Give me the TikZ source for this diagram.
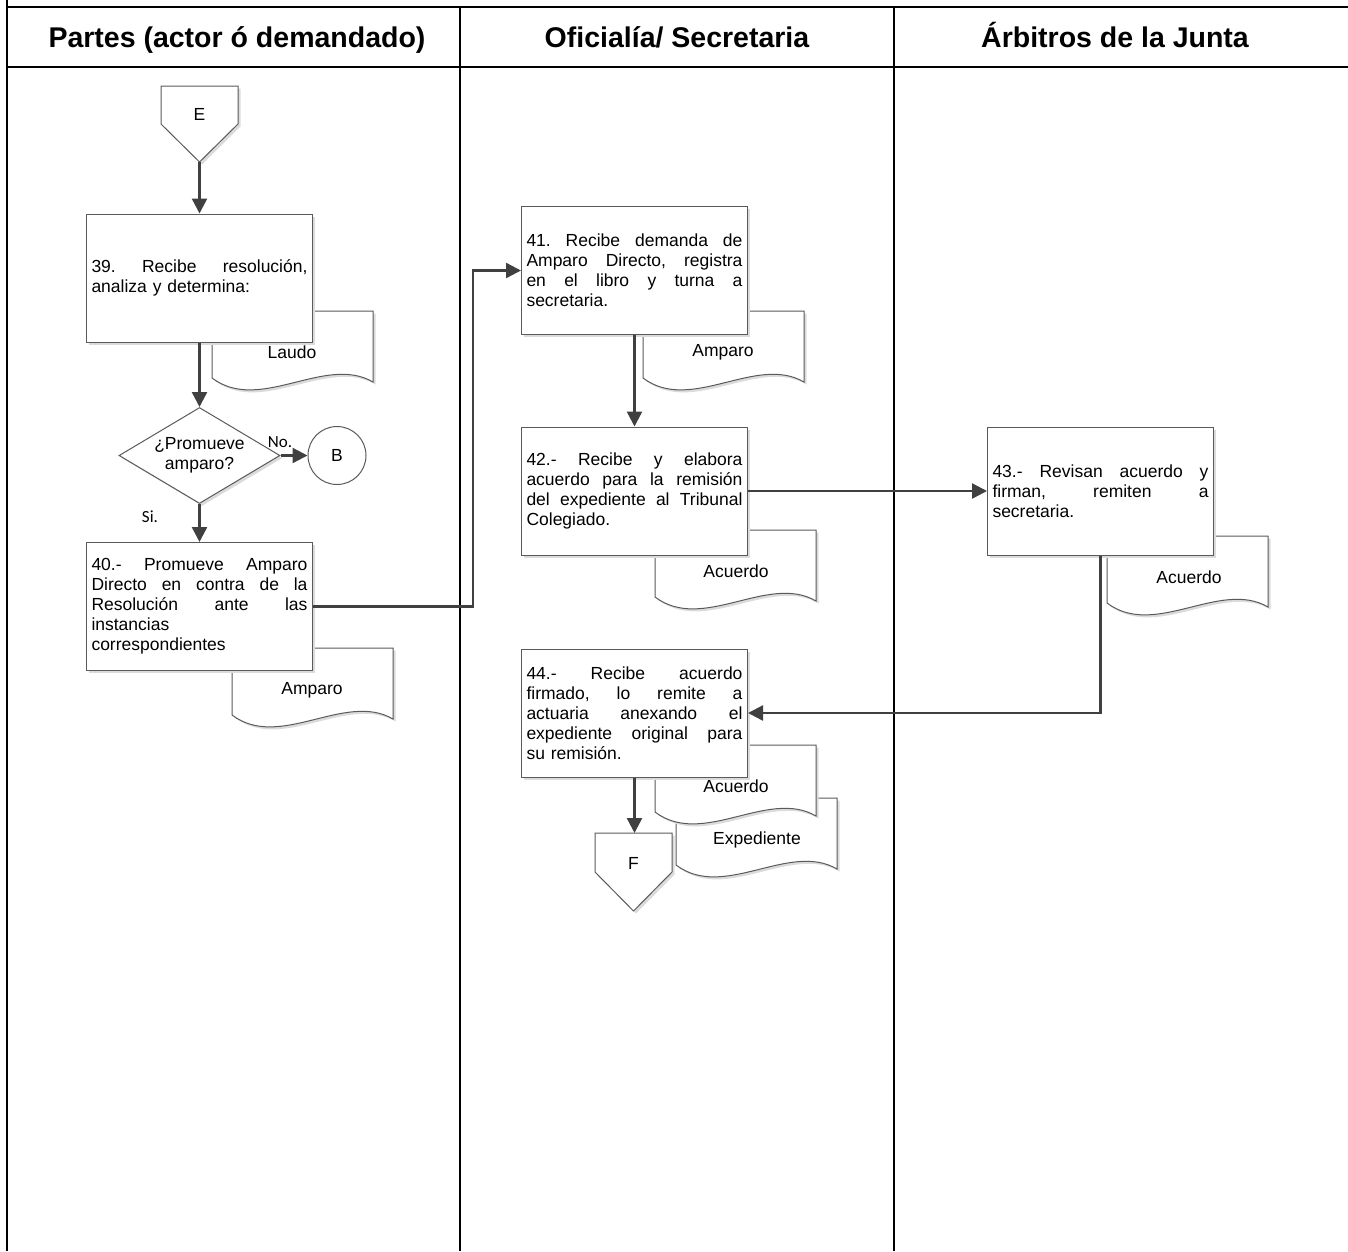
\documentclass[tikz,border=0pt]{standalone}
\usepackage{fontspec}
\setmainfont{Liberation Sans}
\newfontfamily\lblfont{Carlito}
\usetikzlibrary{arrows.meta,shapes.geometric,shadows}
\definecolor{conncol}{HTML}{404040}
\definecolor{edgecol}{HTML}{5A5A5A}
\newcommand{\jl}[1]{\makebox[216pt][s]{\spaceskip=0pt \xspaceskip=0pt \frenchspacing #1}}
\tikzset{
  lane/.style={line width=1.8pt, black},
  hline/.style={line width=2.6pt, black},
  head/.style={font=\fontsize{28.5}{32}\selectfont\bfseries, inner sep=0pt, anchor=base},
  body/.style={font=\fontsize{17.5}{20}\selectfont},
  shd/.style={general shadow={fill=black!14, shadow xshift=2.5pt, shadow yshift=-2.5pt}},
  proc/.style={draw=edgecol, line width=1pt, fill=white, shd, minimum width=226pt, minimum height=128pt, text width=216pt, inner sep=5pt, align=left, body},
  docst/.style={draw=edgecol, line width=1pt, fill=white, shd},
  doctxt/.style={body, inner sep=0pt},
  dec/.style={diamond, draw=edgecol, line width=1pt, fill=white, shd, minimum width=161pt, minimum height=96pt, inner sep=0pt},
  conn/.style={draw=conncol, line width=2.4pt, -{Triangle[length=15pt,width=15pt]}},
  lbl/.style={font=\lblfont\fontsize{17}{20}\selectfont, inner sep=0pt},
}
\begin{document}
\begin{tikzpicture}[x=1pt, y=-1pt]
\useasboundingbox (0,0) rectangle (1348,1251);
% lanes
\draw[lane] (7,0) -- (7,1251);
\draw[lane] (460,7) -- (460,1251);
\draw[lane] (894,7) -- (894,1251);
\draw[hline] (7,7) -- (1348,7);
\draw[hline] (7,67) -- (1348,67);
\node[head] (h1) at (237,47.5) {Partes (actor ó demandado)};
\node[head] (h2) at (677,47.5) {Oficialía/ Secretaria};
\node[head] (h3) at (1115,47.5) {Árbitros de la Junta};

% documents (behind boxes)
\draw[docst] (212,311) -- ++(161,0) -- ++(0,71) .. controls +(-48,-28) and +(48,36) .. ++(-161,-4) -- cycle;
\node[doctxt] (dlaudo) at (292,352) {Laudo};
\draw[docst] (232,648) -- ++(161,0) -- ++(0,71) .. controls +(-48,-28) and +(48,36) .. ++(-161,-4) -- cycle;
\node[doctxt] (dampA) at (312,690) {Amparo};
\draw[docst] (643,311) -- ++(161,0) -- ++(0,71) .. controls +(-48,-28) and +(48,36) .. ++(-161,-4) -- cycle;
\node[doctxt] (dampB) at (723,352) {Amparo};
\draw[docst] (655,530) -- ++(161,0) -- ++(0,71) .. controls +(-48,-28) and +(48,36) .. ++(-161,-4) -- cycle;
\node[doctxt] (dacA) at (736,571) {Acuerdo};
\draw[docst] (1107,536) -- ++(161,0) -- ++(0,71) .. controls +(-48,-28) and +(48,36) .. ++(-161,-4) -- cycle;
\node[doctxt] (dacB) at (1189,577) {Acuerdo};
\draw[docst] (676,798) -- ++(161,0) -- ++(0,71) .. controls +(-48,-28) and +(48,36) .. ++(-161,-4) -- cycle;
\node[doctxt] (dexp) at (757,840) {Expediente};
\draw[docst] (655,745) -- ++(161,0) -- ++(0,71) .. controls +(-48,-28) and +(48,36) .. ++(-161,-4) -- cycle;
\node[doctxt] (dacC) at (736,786) {Acuerdo};

% off-page connector E
\draw[docst] (161,86) -- (238,86) -- (238,124) -- (199.5,162) -- (161,124) -- cycle;
\coordinate (Ebot) at (199.5,162);
\node[doctxt] (Etxt) at (199.5,114) {E};

% process boxes
\node[proc] (b39) at (199.5,278) {\jl{39. Recibe resolución,}\\analiza y determina:};
\node[dec] (d1) at (199.5,455.5) {};
\node[doctxt, align=center] (d1txt) at (199.5,455) {¿Promueve\\amparo?};
\node[circle, draw=edgecol, line width=1pt, fill=white, minimum size=58pt, inner sep=0pt, body] (B) at (337,455.5) {B};
\node[proc] (b40) at (199.5,606.5) {\jl{40.- Promueve Amparo}\\\jl{Directo en contra de la}\\\jl{Resolución ante las}\\instancias\\correspondientes};
\node[proc] (b41) at (634.5,270.5) {\jl{41. Recibe demanda de}\\\jl{Amparo Directo, registra}\\\jl{en el libro y turna a}\\secretaria.};
\node[proc] (b42) at (634.5,491) {\jl{42.- Recibe y elabora}\\\jl{acuerdo para la remisión}\\\jl{del expediente al Tribunal}\\Colegiado.};
\node[proc] (b43) at (1100.5,491) {\jl{43.- Revisan acuerdo y}\\\jl{firman, remiten a}\\secretaria.};
\node[proc] (b44) at (634.5,713) {\jl{44.- Recibe acuerdo}\\\jl{firmado, lo remite a}\\\jl{actuaria anexando el}\\\jl{expediente original para}\\su remisión.};

% off-page connector F
\draw[docst] (595,833) -- (672,833) -- (672,872) -- (633.5,911) -- (595,872) -- cycle;
\coordinate (Ftop) at (634.5,833);
\node[doctxt] (Ftxt) at (633.5,863) {F};

% labels
\node[lbl] (lno) at (280,442) {No.};
\node[lbl] (lsi) at (150,517) {Si.};

% connectors
\draw[conn] (Ebot) -- (b39.north);
\draw[conn] (b39.south) -- (d1.north);
\draw[conn] (d1.east) -- (B.west);
\draw[conn] (d1.south) -- (b40.north);
\coordinate (j1) at (473,0);
\draw[conn] (b40.east) -- (b40.east -| j1) |- (b41.west);
\draw[conn] (b41.south) -- (b42.north);
\draw[conn] (b42.east) -- (b43.west);
\draw[conn] (b43.south) |- (b44.east);
\draw[conn] (b44.south) -- (Ftop);
\end{tikzpicture}
\end{document}
